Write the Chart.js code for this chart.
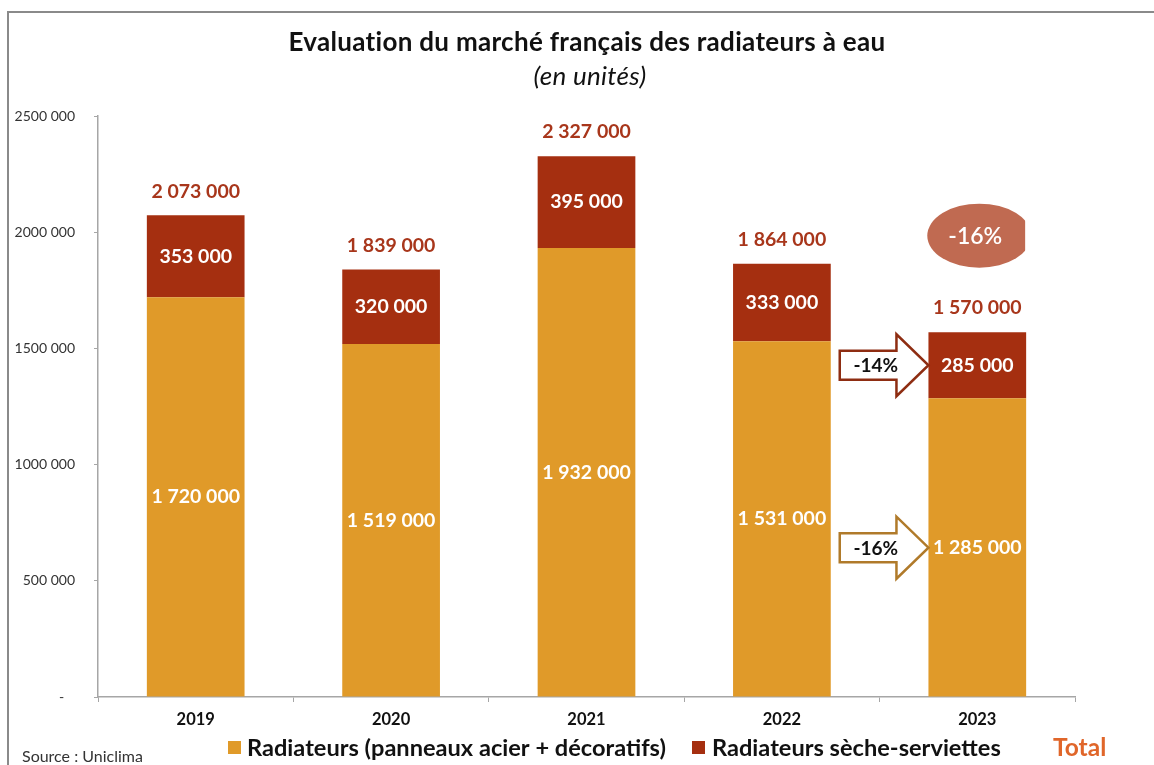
<!DOCTYPE html>
<html>
<head>
<meta charset="utf-8">
<script src="https://cdn.jsdelivr.net/npm/chart.js@4.4.1/dist/chart.umd.min.js"></script>
<style>
  html, body { margin: 0; padding: 0; background: #ffffff; }
  #wrap { width: 1154px; height: 765px; position: relative; }
</style>
</head>
<body>
<div id="wrap"><canvas id="c" width="1154" height="765"></canvas></div>
<script>
// ---- Data ----
const categories = ['2019', '2020', '2021', '2022', '2023'];
const radiateurs = [1720000, 1519000, 1932000, 1531000, 1285000];
const secheServiettes = [353000, 320000, 395000, 333000, 285000];
const totals = [2073000, 1839000, 2327000, 1864000, 1570000];
const yTickValues = [0, 500000, 1000000, 1500000, 2000000, 2500000];
const seriesNames = ['Radiateurs (panneaux acier + décoratifs)', 'Radiateurs sèche-serviettes', 'Total'];
const evolutionSeche = '-14%';
const evolutionRadiateurs = '-16%';
const evolutionTotal = '-16%';
const titleText = 'Evaluation du marché français des radiateurs à eau';
const subtitleText = '(en unités)';
const sourceText = 'Source : Uniclima';

// ---- Styles ----
const FONT = 'Lato, "Open Sans", sans-serif';
const ORANGE = '#E09A29';
const DARKRED = '#A52F10';
const TOTALRED = '#A8361B';
const ELLIPSE = '#C06A51';
const TOTAL_LEGEND = '#E0662A';
const ARROW1 = '#8E2D12';
const ARROW2 = '#B07A2A';
const AXIS = '#A6A6A6';

function fmtSpace(v) {
  return String(v).replace(/\B(?=(\d{3})+(?!\d))/g, ' ');
}
function fmtTick(v) {
  if (v === 0) return '-   ';
  // Excel style seen in the reference: "2500 000"
  const s = String(v);
  return s.slice(0, s.length - 3) + ' ' + s.slice(-3);
}

const overlayPlugin = {
  id: 'overlay',
  afterDatasetsDraw(chart) {
    const ctx = chart.ctx;
    const y = chart.scales.y;
    const m0 = chart.getDatasetMeta(0);
    const m1 = chart.getDatasetMeta(1);
    ctx.save();
    ctx.textAlign = 'center';
    ctx.textBaseline = 'middle';
    // values inside bars
    ctx.font = 'bold 19.5px ' + FONT;
    ctx.fillStyle = '#ffffff';
    m0.data.forEach((bar, i) => {
      const cy = (y.getPixelForValue(0) + y.getPixelForValue(radiateurs[i])) / 2;
      ctx.fillText(fmtSpace(radiateurs[i]), bar.x, cy);
    });
    m1.data.forEach((bar, i) => {
      const cy = (y.getPixelForValue(radiateurs[i]) + y.getPixelForValue(totals[i])) / 2;
      ctx.fillText(fmtSpace(secheServiettes[i]), bar.x, cy);
    });
    // totals above bars
    ctx.fillStyle = TOTALRED;
    m1.data.forEach((bar, i) => {
      ctx.fillText(fmtSpace(totals[i]), bar.x, y.getPixelForValue(totals[i]) - 24);
    });

    // arrows between last two bars
    const last = categories.length - 1;
    const prevBar = m1.data[last - 1];
    const lastBar = m1.data[last];
    const x0 = prevBar.x + prevBar.width / 2 + 9;
    const tip = lastBar.x - lastBar.width / 2;
    function arrow(cy, color, label) {
      const bodyH = 29, headH = 62, headLen = 32;
      const hx = tip - headLen;
      ctx.beginPath();
      ctx.moveTo(x0, cy - bodyH / 2);
      ctx.lineTo(hx, cy - bodyH / 2);
      ctx.lineTo(hx, cy - headH / 2);
      ctx.lineTo(tip, cy);
      ctx.lineTo(hx, cy + headH / 2);
      ctx.lineTo(hx, cy + bodyH / 2);
      ctx.lineTo(x0, cy + bodyH / 2);
      ctx.closePath();
      ctx.fillStyle = '#ffffff';
      ctx.fill();
      ctx.lineWidth = 2.5;
      ctx.strokeStyle = color;
      ctx.lineJoin = 'miter';
      ctx.stroke();
      ctx.fillStyle = '#111111';
      ctx.font = 'bold 19px ' + FONT;
      ctx.fillText(label, x0 + 36, cy + 1);
    }
    const cy1 = (y.getPixelForValue(radiateurs[last]) + y.getPixelForValue(totals[last])) / 2;
    const cy2 = (y.getPixelForValue(0) + y.getPixelForValue(radiateurs[last])) / 2;
    arrow(cy1, ARROW1, evolutionSeche);
    arrow(cy2, ARROW2, evolutionRadiateurs);

    // ellipse with total evolution
    const ex = lastBar.x + 2;
    const ey = y.getPixelForValue(1985000);
    ctx.save();
    ctx.beginPath();
    ctx.rect(0, 0, lastBar.x + lastBar.width / 2 - 1, chart.height);
    ctx.clip();
    ctx.beginPath();
    ctx.ellipse(ex, ey, 52, 32, 0, 0, Math.PI * 2);
    ctx.fillStyle = ELLIPSE;
    ctx.fill();
    ctx.restore();
    ctx.fillStyle = '#ffffff';
    ctx.font = '600 23px ' + FONT;
    ctx.fillText(evolutionTotal, lastBar.x - 2, ey + 1);
    ctx.restore();
  },
  afterDraw(chart) {
    const ctx = chart.ctx;
    ctx.save();
    // frame
    ctx.strokeStyle = '#8a8a8a';
    ctx.lineWidth = 2;
    ctx.beginPath();
    ctx.moveTo(8, chart.height);
    ctx.lineTo(8, 12);
    ctx.lineTo(chart.width, 12);
    ctx.stroke();

    // title
    ctx.textAlign = 'center';
    ctx.textBaseline = 'middle';
    ctx.fillStyle = '#111111';
    ctx.letterSpacing = '0.3px';
    ctx.font = 'bold 26px ' + FONT;
    ctx.fillText(titleText, 587, 43);
    ctx.font = 'italic 26px ' + FONT;
    ctx.fillText(subtitleText, 590, 77);
    ctx.letterSpacing = '0px';

    // legend
    ctx.textAlign = 'left';
    ctx.font = 'bold 23.6px ' + FONT;
    ctx.fillStyle = ORANGE;
    ctx.fillRect(228, 741, 13, 13);
    ctx.fillStyle = '#111111';
    ctx.fillText(seriesNames[0], 247, 748);
    ctx.fillStyle = DARKRED;
    ctx.fillRect(692, 741, 13, 13);
    ctx.fillStyle = '#111111';
    ctx.fillText(seriesNames[1], 712, 748);
    ctx.fillStyle = TOTAL_LEGEND;
    ctx.font = 'bold 24.5px ' + FONT;
    ctx.fillText(seriesNames[2], 1053, 748);

    // source
    ctx.font = '16px ' + FONT;
    ctx.fillStyle = '#333333';
    ctx.fillText(sourceText, 22, 757);
    ctx.restore();
  }
};

new Chart(document.getElementById('c'), {
  type: 'bar',
  data: {
    labels: categories,
    datasets: [
      { label: seriesNames[0], data: radiateurs, backgroundColor: ORANGE, borderWidth: 0 },
      { label: seriesNames[1], data: secheServiettes, backgroundColor: DARKRED, borderWidth: 0 }
    ]
  },
  options: {
    responsive: false,
    animation: false,
    events: [],
    layout: { padding: { left: 0, right: 79, top: 116, bottom: 28 } },
    plugins: {
      legend: { display: false },
      title: { display: false },
      tooltip: { enabled: false }
    },
    datasets: { bar: { categoryPercentage: 1, barPercentage: 0.5 } },
    scales: {
      x: {
        stacked: true,
        offset: true,
        border: { color: AXIS, width: 1.5 },
        grid: { display: true, offset: true, drawOnChartArea: false, drawTicks: true, tickLength: 5, color: AXIS, tickColor: AXIS },
        ticks: { color: '#111111', font: { family: FONT, size: 16.5, weight: 'bold' }, padding: 8 },
        afterFit(s) { s.height = 40; }
      },
      y: {
        stacked: true,
        min: 0,
        max: 2500000,
        border: { color: AXIS, width: 1.5 },
        grid: { drawOnChartArea: false, drawTicks: true, tickLength: 4, color: AXIS, tickColor: AXIS },
        afterBuildTicks(s) { s.ticks = yTickValues.map(v => ({ value: v })); },
        ticks: {
          color: '#333333',
          font: { family: FONT, size: 14 },
          padding: 19,
          callback: (v) => fmtTick(v)
        },
        afterFit(s) { s.width = 98; }
      }
    }
  },
  plugins: [overlayPlugin]
});
</script>
</body>
</html>
